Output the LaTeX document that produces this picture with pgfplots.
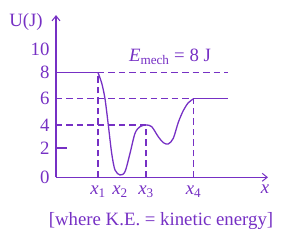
\documentclass[border=0pt]{standalone}
\usepackage{fontspec}
\setmainfont{Liberation Serif}
\usepackage{pgfplots}
\pgfplotsset{compat=1.18}
\usetikzlibrary{arrows.meta}
\definecolor{pur}{RGB}{118,48,196}
\begin{document}
\begin{tikzpicture}[font=\fontsize{18.8bp}{22bp}\selectfont]
\useasboundingbox (-56bp,-64.7bp) rectangle (228bp,177.3bp);
\begin{axis}[
  anchor=origin, at={(0,0)},
  x=1bp, y=13.08bp,
  xmin=0, xmax=212, ymin=0, ymax=12.4,
  clip=false,
  axis lines=left,
  axis line style={pur, line width=1.4pt, -{Straight Barb[length=5pt,width=8pt,line width=1pt]}},
  major tick length=0pt,
  xtick={42,64,90,137.5},
  xticklabels={{\textit{x}\textsubscript{1}},{\textit{x}\textsubscript{2}},{\textit{x}\textsubscript{3}},{\textit{x}\textsubscript{4}}},
  ytick={0,2.25,4,6,8,9.8},
  yticklabels={0,2,4,6,8,10},
  /pgf/number format/assume math mode=true,
  ticklabel style={text=pur},
  yticklabel style={xshift=-3bp},
  xticklabel style={yshift=-5bp},
]
% dashed guides
\addplot[pur, line width=1.1pt, dash pattern=on 6.5bp off 4bp] coordinates {(42,8) (172,8)};
\addplot[pur, line width=1.1pt, dash pattern=on 6.5bp off 4bp] coordinates {(0,6) (137.5,6)};
\addplot[pur, line width=1.1pt, dash pattern=on 6.5bp off 4bp] coordinates {(0,4) (90,4)};
\addplot[pur, line width=1.1pt, dash pattern=on 6.5bp off 4bp] coordinates {(42,0) (42,8)};
\addplot[pur, line width=1.1pt, dash pattern=on 6.5bp off 4bp] coordinates {(90,0) (90,4)};
\addplot[pur, line width=1.1pt, dash pattern=on 6.5bp off 4bp] coordinates {(137.5,0) (137.5,6)};
% tick at 2
\addplot[pur, line width=1.3pt] coordinates {(0,2.25) (11,2.25)};
% potential energy curve
\addplot[pur, line width=1.3pt] coordinates {(0,8) (42,8)};
\addplot[pur, line width=1.3pt, smooth, tension=0.5] coordinates {
(42,8) (45.7,7.2) (49,6) (52.3,4) (55.7,1.83) (59,0.56) (64,0.18) (69,0.43)
(74,1.83) (79,3.36) (84,3.87) (90,4) (95.7,3.87) (102.3,3.1) (107.3,2.65)
(112.3,2.55) (117.3,2.98) (122.3,4.2) (127.3,5.1) (132.3,5.7) (137.5,6)};
\addplot[pur, line width=1.3pt] coordinates {(137.5,6) (172,6)};
% labels
\node[text=pur] at (axis cs:-30,11.87) {U(J)};
\node[text=pur] at (axis cs:209,-0.9) {\textit{x}};
\node[text=pur] at (axis cs:114,9.2) {\textit{E}\textsubscript{mech} = 8 J};
\node[text=pur] at (axis cs:105,-3.33) {[where K.E. = kinetic energy]};
\end{axis}
\end{tikzpicture}
\end{document}
